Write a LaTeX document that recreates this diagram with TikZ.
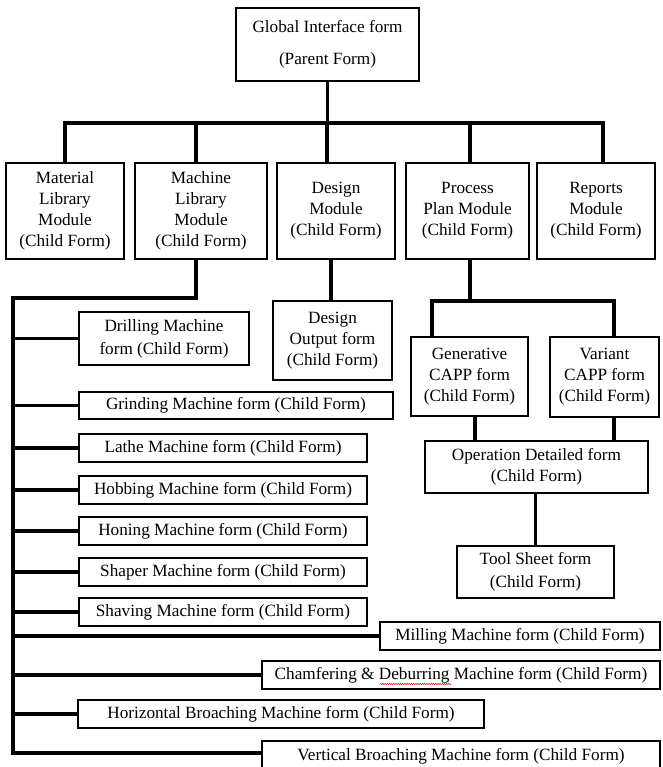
\documentclass[tikz,border=0pt]{standalone}
\usepackage{fontspec}
\setmainfont{Liberation Serif}
\usetikzlibrary{decorations.pathmorphing}
\tikzset{
  box/.style={draw=black, line width=1.7pt, fill=white, inner sep=0pt, align=center,
    font=\fontsize{17.2}{21}\selectfont},
  conn/.style={draw=black, line width=3.2pt, line join=miter, line cap=butt},
  spell/.style={red, line width=0.5pt, decorate,
    decoration={snake, amplitude=0.7pt, segment length=2.2pt}}
}
\newcommand\mybox[6]{%
  \node[box, minimum width={(#4-#2)*1pt}, minimum height={(#5-#3)*1pt}]
    (#1) at ({(#2+#4)/2},{(#3+#5)/2}) {#6};}
\begin{document}
\begin{tikzpicture}[x=1pt, y=-1pt]
\useasboundingbox (0,0) rectangle (662,767);
% ---------- coordinates for connector routes
\coordinate (b1) at (65,123);
\coordinate (b2) at (196,123);
\coordinate (b3) at (327,123);
\coordinate (b4) at (470,123);
\coordinate (b5) at (603,123);
\coordinate (trunktop) at (13,298);
\coordinate (trunkbot) at (13,753);
\coordinate (dx) at (331,0);
\coordinate (ps) at (470,301);
\coordinate (g) at (432,301);
\coordinate (v) at (614,301);
\coordinate (go) at (475,0);
% ---------- nodes
\mybox{glob}{236}{8}{419}{81}{Global Interface form\\[11pt](Parent Form)}
\mybox{mat}{6}{163}{124}{259}{Material\\Library\\Module\\(Child Form)}
\mybox{mach}{135}{163}{267}{259}{Machine\\Library\\Module\\(Child Form)}
\mybox{des}{277}{163}{395}{259}{Design\\Module\\(Child Form)}
\mybox{proc}{406}{163}{529}{259}{Process\\Plan Module\\(Child Form)}
\mybox{rep}{537}{163}{655}{259}{Reports\\Module\\(Child Form)}
\mybox{drill}{79}{312}{249}{365}{Drilling Machine\\[2pt]form (Child Form)}
\mybox{dout}{273}{301}{392}{380}{Design\\Output form\\(Child Form)}
\mybox{gen}{411}{337}{528}{416}{Generative\\CAPP form\\(Child Form)}
\mybox{var}{550}{337}{659}{417}{Variant\\CAPP form\\(Child Form)}
\mybox{op}{425}{441}{648}{493}{Operation Detailed form\\(Child Form)}
\mybox{tool}{457}{546}{614}{598}{Tool Sheet form\\[2pt](Child Form)}
\mybox{grind}{79}{392}{393}{419}{Grinding Machine form (Child Form)}
\mybox{lathe}{79}{434}{367}{462}{Lathe Machine form (Child Form)}
\mybox{hob}{79}{476}{367}{504}{Hobbing Machine form (Child Form)}
\mybox{hon}{79}{517}{367}{545}{Honing Machine form (Child Form)}
\mybox{shap}{79}{558}{367}{586}{Shaper Machine form (Child Form)}
\mybox{shav}{79}{598}{367}{626}{Shaving Machine form (Child Form)}
\mybox{mill}{380}{622}{660}{650}{Milling Machine form (Child Form)}
\mybox{cham}{262}{661}{660}{689}{Chamfering \& Deburring Machine form (Child Form)}
\mybox{hbro}{78}{700}{484}{728}{Horizontal Broaching Machine form (Child Form)}
\mybox{vbro}{262}{741}{660}{771}{Vertical Broaching Machine form (Child Form)}
% ---------- connectors
\draw[conn] (glob.south) -- (glob.south |- b3);
\draw[conn] (b1 |- mat.north) -- (b1) -- (b5) -- (b5 |- rep.north);
\draw[conn] (b2) -- (b2 |- mach.north);
\draw[conn] (b3) -- (b3 |- des.north);
\draw[conn] (b4) -- (b4 |- proc.north);
\draw[conn] (b2 |- mach.south) |- (trunktop) -- (trunkbot) -- (trunkbot -| vbro.west);
\foreach \n in {drill,grind,lathe,hob,hon,shap,shav,mill,cham,hbro}
  \draw[conn] (\n.west) -- (\n.west -| trunktop);
\draw[conn] (dx |- des.south) -- (dx |- dout.north);
\draw[conn] (ps |- proc.south) -- (ps);
\draw[conn] (g |- gen.north) -- (g) -- (v) -- (v |- var.north);
\draw[conn] (go |- gen.south) -- (go |- op.north);
\draw[conn] (v |- var.south) -- (v |- op.north);
\draw[conn] (op.south -| tool.north) -- (tool.north);
% ---------- spell-check underline
\draw[spell] (380,684) -- (451,684);
\end{tikzpicture}
\end{document}
